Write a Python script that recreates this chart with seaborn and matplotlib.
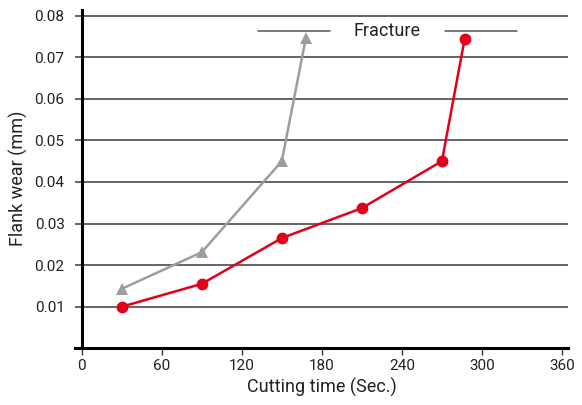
import matplotlib.pyplot as plt
import seaborn as sns
import numpy as np
import pandas as pd

# data
gray_time = [30, 90, 150, 168]
gray_wear = [0.0143, 0.0231, 0.0450, 0.0746]
red_time = [30, 90, 150, 210, 270, 287]
red_wear = [0.0100, 0.0155, 0.0265, 0.0337, 0.0450, 0.0743]
x_ticks = [0, 60, 120, 180, 240, 300, 360]
y_ticks = [0.01, 0.02, 0.03, 0.04, 0.05, 0.06, 0.07, 0.08]

gray_df = pd.DataFrame({"time": gray_time, "wear": gray_wear})
red_df = pd.DataFrame({"time": red_time, "wear": red_wear})

sns.set_style("white")
plt.rcParams["font.family"] = ["Roboto", "DejaVu Sans"]

fig = plt.figure(figsize=(5.82, 4.05), dpi=100)
ax = fig.add_axes([0.1289, 0.14, 0.847, 0.838])

# horizontal grid lines (extend left of the y axis like ticks)
for y in y_ticks:
    ax.axhline(y, color="#3a3a3a", lw=1.1, zorder=1)

# y axis line at x = 0
ax.axvline(0, color="black", lw=2.2, zorder=3)

sns.lineplot(data=gray_df, x="time", y="wear", ax=ax, color="#9d9d9d",
             marker="^", markersize=9, markeredgewidth=0, lw=1.8, zorder=4)
sns.lineplot(data=red_df, x="time", y="wear", ax=ax, color="#e2001a",
             marker="o", markersize=8.5, markeredgewidth=0, lw=1.8, zorder=5)

# fracture annotation
ax.plot([132, 186], [0.0762, 0.0762], color="#555555", lw=1.1, zorder=2)
ax.plot([272, 326], [0.0762, 0.0762], color="#555555", lw=1.1, zorder=2)
ax.text(229, 0.0762, "Fracture", ha="center", va="center", fontsize=13,
        color="#222222", zorder=6)

ax.set_xlim(-5, 364.5)
ax.set_ylim(0, 0.0816)
ax.set_xticks(x_ticks)
ax.set_yticks(y_ticks)
ax.set_xticklabels([str(v) for v in x_ticks])
ax.set_yticklabels([f"{v:.2f}" for v in y_ticks])

for s in ["top", "right", "left"]:
    ax.spines[s].set_visible(False)
ax.spines["bottom"].set_linewidth(2.2)
ax.spines["bottom"].set_color("black")

ax.tick_params(axis="x", bottom=True, length=5, width=1, color="#333333",
               labelsize=11, pad=3, labelcolor="#222222")
ax.tick_params(axis="y", left=False, labelsize=11, pad=4, labelcolor="#222222")

ax.set_xlabel("Cutting time (Sec.)", fontsize=13, color="#222222", labelpad=3)
ax.set_ylabel("Flank wear (mm)", fontsize=13, color="#222222", labelpad=9)
ax.yaxis.set_label_coords(-0.095, 0.5)

fig.savefig("out.png", dpi=100)
